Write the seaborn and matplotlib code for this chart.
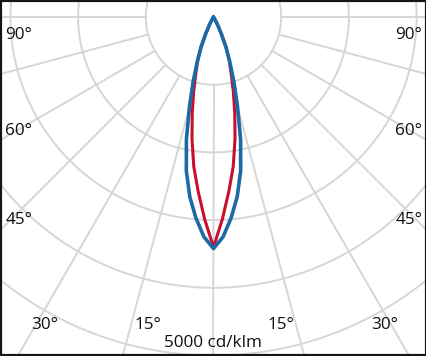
import numpy as np
import pandas as pd
import matplotlib
matplotlib.use('Agg')
import matplotlib.pyplot as plt
import seaborn as sns

# 광도 분포 데이터 (cd/klm), 0° = 아래 방향, 좌우 대칭
gamma = [0, 2.5, 5, 7.5, 10, 12.5, 15, 17.5, 20, 22.5, 25, 27.5, 30, 32.5, 35]
blue_cd = [3420, 3250, 2980, 2680, 2310, 1850, 1370, 1000, 700, 480, 270, 130, 50, 10, 0]
red_cd = [3400, 2990, 2590, 2230, 1830, 1450, 1130, 860, 680, 480, 270, 130, 50, 10, 0]

ring_values = [1000, 2000, 3000, 4000, 5000, 6000]
spoke_angles = list(range(0, 360, 15))

side_labels = ['90°', '60°', '45°']
side_label_y = [35, 131, 220]
bottom_labels = ['30°', '15°', '15°', '30°']
bottom_label_x = [44.5, 147.5, 280.5, 384.5]
scale_label = '5000 cd/klm'

sns.set_style('white')
plt.rcParams['font.family'] = ['Open Sans', 'DejaVu Sans']

W, H = 427, 356
cx, cy = 213.5, 17.0          # 중심 (픽셀)
px_per_1000 = 67.7
rmax = 6000
R = rmax / 1000 * px_per_1000

fig = plt.figure(figsize=(W / 100, H / 100), dpi=100)
ax = fig.add_axes([(cx - R) / W, 1 - (cy + R) / H, 2 * R / W, 2 * R / H], projection='polar')
ax.set_theta_zero_location('S')
ax.set_rlim(0, rmax)
ax.grid(False)
ax.set_xticks([])
ax.set_yticks([])
ax.spines['polar'].set_visible(False)
ax.patch.set_alpha(0)

# 그리드
grid_c = '#d6d6d6'
th = np.linspace(0, 2 * np.pi, 400)
for rv in ring_values:
    ax.plot(th, [rv] * len(th), color=grid_c, lw=1.4, zorder=1)
for a in spoke_angles:
    ax.plot([np.deg2rad(a)] * 2, [1000, rmax], color=grid_c, lw=1.4, zorder=1)

# 곡선 (좌우 대칭)
def mirror(vals):
    ang = [-g for g in gamma[::-1]] + gamma[1:]
    v = vals[::-1] + vals[1:]
    return pd.DataFrame({'theta': np.deg2rad(ang), 'r': v})

red_df = mirror(red_cd)
blue_df = mirror(blue_cd)
sns.lineplot(data=red_df, x='theta', y='r', sort=False, estimator=None,
             color='#c8102e', lw=2.2, ax=ax, zorder=3)
sns.lineplot(data=blue_df, x='theta', y='r', sort=False, estimator=None,
             color='#1c6aa5', lw=2.6, ax=ax, zorder=4)
ax.set_xlabel('')
ax.set_ylabel('')

# 라벨
fs = 12.3
tc = '#111111'
for t, y in zip(side_labels, side_label_y):
    fig.text(19 / W, 1 - y / H, t, ha='center', va='center', fontsize=fs, color=tc)
    fig.text(409 / W, 1 - y / H, t, ha='center', va='center', fontsize=fs, color=tc)
for t, x in zip(bottom_labels, bottom_label_x):
    fig.text(x / W, 1 - 325 / H, t, ha='center', va='center', fontsize=fs, color=tc)
fig.text(213.5 / W, 1 - 343 / H, scale_label, ha='center', va='center', fontsize=fs, color=tc)

fig.add_artist(plt.Rectangle((0, 0), 1, 1, transform=fig.transFigure, fill=False,
                             edgecolor='#151515', lw=3, zorder=10))

fig.savefig('out.png', dpi=100)
